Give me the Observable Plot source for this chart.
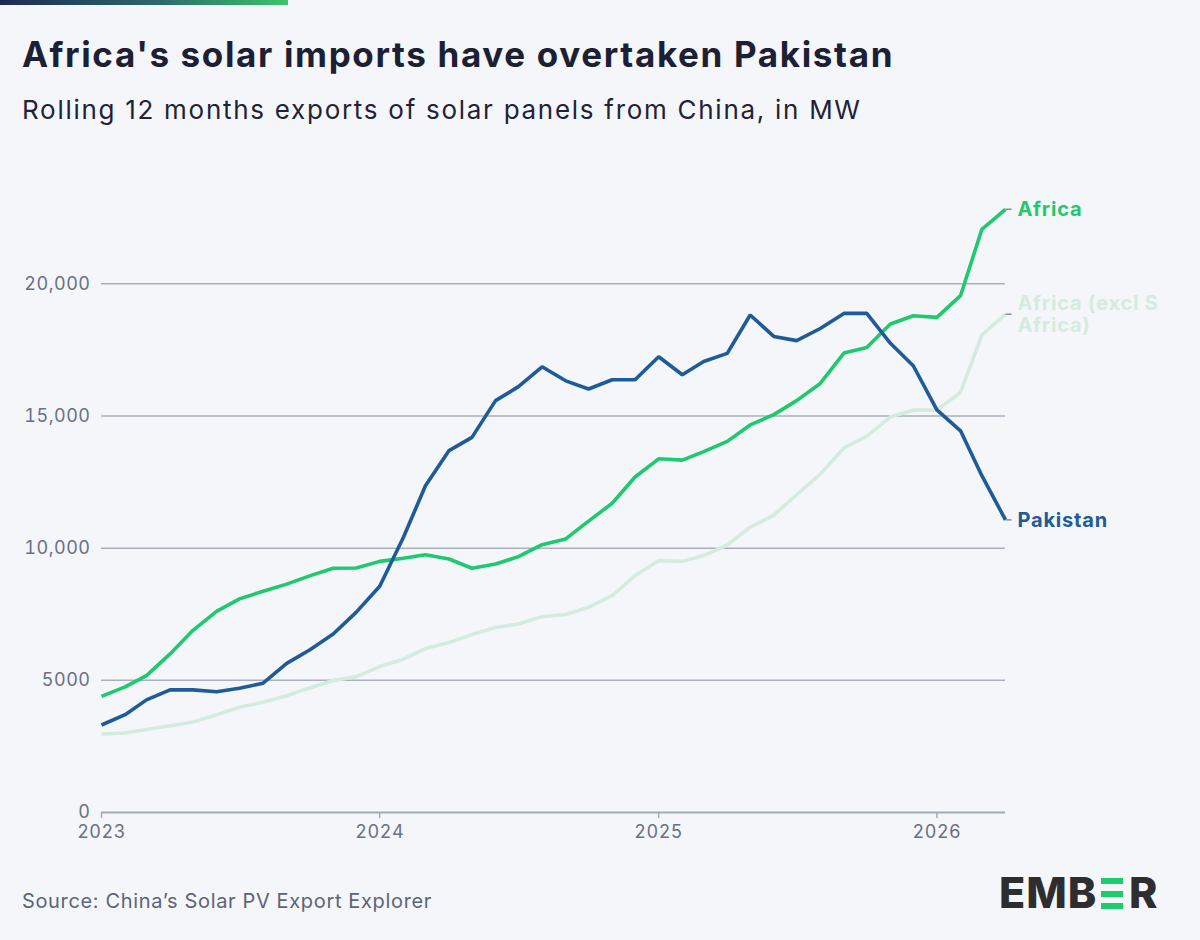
<!DOCTYPE html>
<html>
<head>
<meta charset="utf-8">
<script src="https://cdn.jsdelivr.net/npm/d3@7"></script>
<script src="https://cdn.jsdelivr.net/npm/@observablehq/plot@0.6"></script>
<style>
  html, body { margin: 0; padding: 0; background: #f5f6fa; }
  #page { position: relative; width: 1200px; height: 940px; background: #f5f6fa; overflow: hidden; font-family: Inter, "Noto Sans", sans-serif; }
  #bar { position: absolute; left: 0; top: 0; width: 288px; height: 5px; background: linear-gradient(90deg, #1c2a55 0%, #2c6a6a 55%, #3cc46c 100%); }
  #title { position: absolute; left: 22px; top: 33px; font-size: 35px; font-weight: 700; color: #1b2034; white-space: nowrap; letter-spacing: 1.65px; }
  #subtitle { position: absolute; left: 22px; top: 94px; font-size: 26px; font-weight: 400; color: #1f2336; white-space: nowrap; letter-spacing: 1.72px; }
  #chart { position: absolute; left: 0; top: 150px; }
  #source { position: absolute; left: 22px; top: 889px; font-size: 20px; color: #5b6478; white-space: nowrap; letter-spacing: 0.65px; }
  .logo { position: absolute; font-family: Inter, sans-serif; font-weight: 800; font-size: 43px; color: #2e2e30; line-height: 1; }
  .gbar { position: absolute; width: 22px; height: 6px; background: #1fcb6f; }
  #chart g.endlabels text { letter-spacing: 0.8px; }
  #chart g.ticklabels text { letter-spacing: 0.5px; }
</style>
</head>
<body>
<div id="page">
  <div id="bar"></div>
  <div id="title">Africa's solar imports have overtaken Pakistan</div>
  <div id="subtitle">Rolling 12 months exports of solar panels from China, in MW</div>
  <div id="chart"></div>
  <div id="source">Source: China’s Solar PV Export Explorer</div>
  <div class="logo" style="left:999px; top:871px; letter-spacing:1px;">EMB</div>
  <div class="gbar" style="left:1101px; top:878px;"></div>
  <div class="gbar" style="left:1101px; top:891px;"></div>
  <div class="gbar" style="left:1101px; top:903px;"></div>
  <div class="logo" style="left:1129px; top:871px;">R</div>
</div>
<script>
// Monthly series, Jan 2023 .. Apr 2026 (rolling 12-month MW)
const startMonth = "2023-01-01";
const africa = [4390,4750,5180,6000,6890,7610,8080,8370,8640,8950,9240,9250,9500,9620,9750,9590,9240,9400,9680,10130,10350,11020,11700,12690,13380,13330,13650,14040,14660,15050,15580,16230,17380,17590,18480,18790,18730,19550,22060,22820];
const pakistan = [3310,3700,4260,4640,4640,4570,4700,4890,5640,6150,6750,7570,8560,10400,12360,13690,14190,15580,16110,16860,16330,16020,16370,16370,17240,16560,17060,17370,18820,18010,17850,18310,18880,18880,17750,16900,15230,14440,12740,11070];
const africaExSA = [2970,3010,3140,3280,3420,3700,3980,4170,4420,4710,4990,5140,5520,5800,6200,6430,6730,7000,7130,7410,7490,7760,8200,8960,9530,9500,9720,10120,10790,11250,12020,12800,13790,14230,14970,15220,15220,15890,18060,18850];
const seriesNames = ["Africa (excl S Africa)", "Africa", "Pakistan"];
const seriesLabels = ["Africa (excl S\nAfrica)", "Africa", "Pakistan"];
const seriesColors = ["#d3ecdd", "#1fc96f", "#1f5b98"];
const yTicks = [0, 5000, 10000, 15000, 20000];
const xTickYears = ["2023-01-01", "2024-01-01", "2025-01-01", "2026-01-01"];

const start = new Date(startMonth);
const months = africa.map((_, i) => d3.utcMonth.offset(start, i));
const valuesBySeries = [africaExSA, africa, pakistan];
const rows = [];
seriesNames.forEach((s, k) => valuesBySeries[k].forEach((v, i) => rows.push({series: s, date: months[i], value: v})));
const lastDate = months[months.length - 1];
const ends = seriesNames.map((s, k) => ({series: s, label: seriesLabels[k], color: seriesColors[k], date: lastDate, value: valuesBySeries[k][valuesBySeries[k].length - 1]}));

const fmt = d => d >= 10000 ? d3.format(",")(d) : String(d);

const chart = Plot.plot({
  width: 1200,
  height: 700,
  marginLeft: 101,
  marginRight: 195,
  marginTop: 54,
  marginBottom: 38,
  style: {background: "transparent", fontFamily: "Inter, 'Noto Sans', sans-serif", overflow: "visible"},
  x: {type: "utc", domain: [start, lastDate]},
  y: {domain: [0, 23000]},
  color: {domain: seriesNames, range: seriesColors},
  marks: [
    Plot.ruleY(yTicks.filter(d => d > 0), {stroke: "#a9afbd", strokeWidth: 1.5}),
    Plot.ruleY([0], {stroke: "#a3aab8", strokeWidth: 2}),
    Plot.axisY({ticks: yTicks, tickSize: 0, tickPadding: 11, tickFormat: fmt, fontSize: 18, fill: "#687085", label: null, className: "ticklabels"}),
    Plot.axisX({ticks: xTickYears.map(d => new Date(d)), tickSize: 6, tickPadding: 7, tickFormat: d3.utcFormat("%Y"), fontSize: 18, fill: "#687085", stroke: "#a3aab8", strokeWidth: 1.5, label: null, className: "ticklabels"}),
    Plot.lineY(rows, {x: "date", y: "value", z: "series", stroke: "series", strokeWidth: 3.6, strokeLinejoin: "miter", strokeLinecap: "butt"}),
    Plot.link(ends, {x1: "date", x2: d => d3.utcDay.offset(d.date, 8), y1: "value", y2: "value", stroke: "#8a8f9a", strokeWidth: 1.5}),
    Plot.text(ends, {x: "date", y: "value", text: "label", fill: "color", dx: 12, textAnchor: "start", fontWeight: 700, fontSize: 20, lineHeight: 1.1, className: "endlabels"})
  ]
});
document.getElementById("chart").appendChild(chart);
</script>
</body>
</html>
